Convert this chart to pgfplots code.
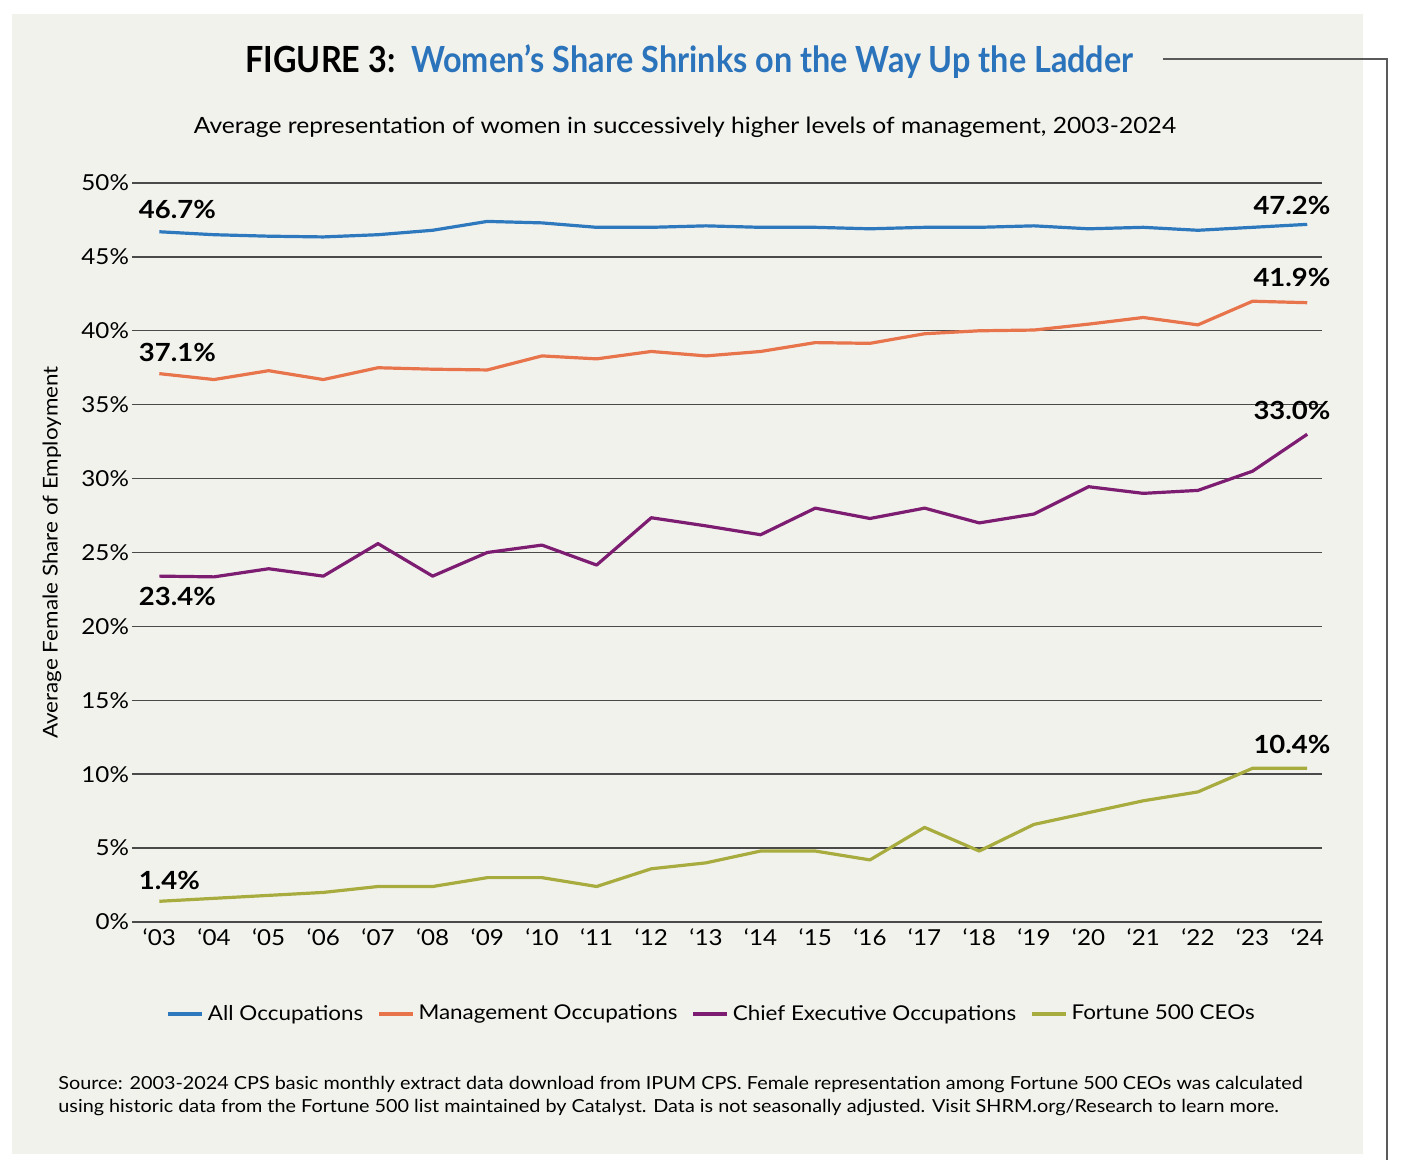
\documentclass[border=0pt]{standalone}
\usepackage{pgfplots}
\pgfplotsset{compat=1.18}
\usepackage{fontspec}
\setmainfont[FakeStretch=1.1]{Lato}
\newfontfamily\titlefont[FakeStretch=0.9]{Lato}
\definecolor{bgpanel}{HTML}{F2F2ED}
\definecolor{cAll}{HTML}{2E78BE}
\definecolor{cMgmt}{HTML}{E8744C}
\definecolor{cChief}{HTML}{7D1D72}
\definecolor{cF500}{HTML}{A8AC3E}
\definecolor{ctitle}{HTML}{2B74BC}
\definecolor{gridc}{HTML}{4A4A4A}
\definecolor{framec}{HTML}{5A5A5A}
\begin{document}
\begin{tikzpicture}
\useasboundingbox (0,0) rectangle (705pt,588pt);
\fill[bgpanel] (6pt,11pt) rectangle (681.5pt,581pt);
\draw[framec, line width=0.6pt] (581.5pt,558.5pt) -- (693.5pt,558.5pt) -- (693.5pt,8pt);
\node[anchor=center, font=\titlefont\bfseries\fontsize{18}{21}\selectfont] at (344.75pt,557pt)
  {FIGURE 3:\ \ \textcolor{ctitle}{Women’s Share Shrinks on the Way Up the Ladder}};
\node[anchor=center, font=\fontsize{11.2}{13}\selectfont] at (342.5pt,524.5pt)
  {Average representation of women in successively higher levels of management, 2003-2024};
\begin{axis}[
  at={(66pt,127pt)}, anchor=south west,
  scale only axis, width=595pt, height=369.5pt,
  xmin=-0.5, xmax=21.27, ymin=0, ymax=50,
  axis line style={draw=none},
  tick style={draw=none},
  ymajorgrids, grid style={gridc, line width=0.7pt},
  ytick={0,5,...,50},
  yticklabels={0\%,5\%,10\%,15\%,20\%,25\%,30\%,35\%,40\%,45\%,50\%},
  yticklabel style={xshift=2pt},
  xtick={0,...,21},
  xticklabels={‘03,‘04,‘05,‘06,‘07,‘08,‘09,‘10,‘11,‘12,‘13,‘14,‘15,‘16,‘17,‘18,‘19,‘20,‘21,‘22,‘23,‘24},
  tick label style={font=\fontsize{11}{13}\selectfont},
  ylabel={Average Female Share of Employment},
  ylabel style={at={(axis description cs:-0.0672,0.5)}, anchor=center, rotate=0, font=\fontsize{10.2}{12}\selectfont},
  legend columns=4,
  legend style={at={(0.488,-0.1245)}, anchor=center, draw=none, fill=none,
    font=\fontsize{10.2}{12}\selectfont,
    /tikz/every even column/.append style={column sep=5pt}},
  legend image code/.code={\draw[#1, line width=1.6pt] (0pt,0pt) -- (17pt,0pt);},
  every axis plot/.append style={line width=1.6pt, mark=none, line join=round},
  clip=false,
]
\addplot[cAll] coordinates {
(0,46.7)(1,46.5)(2,46.4)(3,46.35)(4,46.5)(5,46.8)(6,47.4)(7,47.3)(8,47.0)(9,47.0)(10,47.1)
(11,47.0)(12,47.0)(13,46.9)(14,47.0)(15,47.0)(16,47.1)(17,46.9)(18,47.0)(19,46.8)(20,47.0)(21,47.2)};
\addlegendentry{All Occupations}
\addplot[cMgmt] coordinates {
(0,37.1)(1,36.7)(2,37.3)(3,36.7)(4,37.5)(5,37.4)(6,37.35)(7,38.3)(8,38.1)(9,38.6)(10,38.3)
(11,38.6)(12,39.2)(13,39.15)(14,39.8)(15,40.0)(16,40.05)(17,40.45)(18,40.9)(19,40.4)(20,42.0)(21,41.9)};
\addlegendentry{Management Occupations}
\addplot[cChief] coordinates {
(0,23.4)(1,23.35)(2,23.9)(3,23.4)(4,25.6)(5,23.4)(6,25.0)(7,25.5)(8,24.15)(9,27.35)(10,26.8)
(11,26.2)(12,28.0)(13,27.3)(14,28.0)(15,27.0)(16,27.6)(17,29.45)(18,29.0)(19,29.2)(20,30.5)(21,33.0)};
\addlegendentry{Chief Executive Occupations}
\addplot[cF500] coordinates {
(0,1.4)(1,1.6)(2,1.8)(3,2.0)(4,2.4)(5,2.4)(6,3.0)(7,3.0)(8,2.4)(9,3.6)(10,4.0)
(11,4.8)(12,4.8)(13,4.2)(14,6.4)(15,4.8)(16,6.6)(17,7.4)(18,8.2)(19,8.8)(20,10.4)(21,10.4)};
\addlegendentry{Fortune 500 CEOs}
\begin{scope}[every node/.style={anchor=west, inner sep=0pt, font=\bfseries\fontsize{12.5}{14}\selectfont}]
\node at (axis cs:-0.38,48.2) {46.7\%};
\node at (axis cs:-0.38,38.5) {37.1\%};
\node at (axis cs:-0.38,22.0) {23.4\%};
\node at (axis cs:-0.38,2.8) {1.4\%};
\node at (axis cs:20.01,48.5) {47.2\%};
\node at (axis cs:20.01,43.6) {41.9\%};
\node at (axis cs:20.01,34.6) {33.0\%};
\node at (axis cs:20.01,12.0) {10.4\%};
\end{scope}
\end{axis}
\node[anchor=base west, inner sep=0pt, font=\fontsize{9}{11}\selectfont] at (29pt,43pt)
  {Source: 2003-2024 CPS basic monthly extract data download from IPUM CPS. Female representation among Fortune 500 CEOs was calculated};
\node[anchor=base west, inner sep=0pt, font=\fontsize{9}{11}\selectfont] at (29pt,31.5pt)
  {using historic data from the Fortune 500 list maintained by Catalyst. Data is not seasonally adjusted. Visit SHRM.org/Research to learn more.};
\end{tikzpicture}
\end{document}
